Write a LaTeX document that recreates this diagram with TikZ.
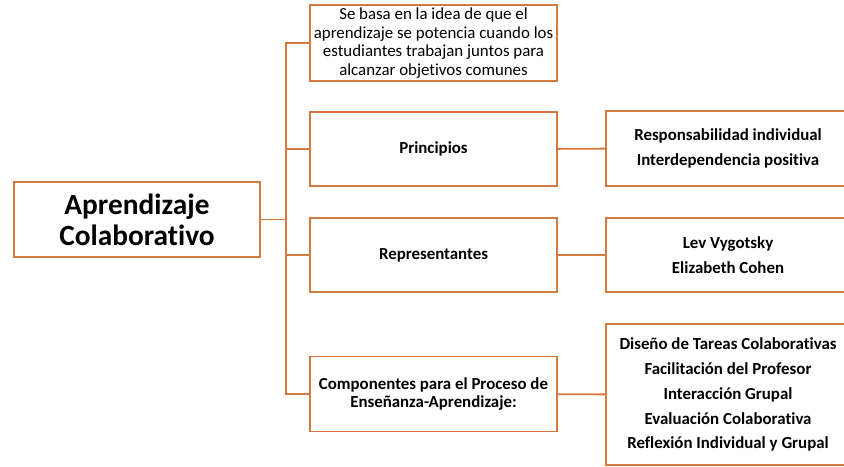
\documentclass[tikz,border=0pt]{standalone}
\usepackage{fontspec}
\setmainfont{Carlito}[Ligatures={NoCommon}]
\definecolor{naranja}{RGB}{214,121,62}
\begin{document}
\begin{tikzpicture}[x=0.02cm, y=-0.02cm,
        box/.style = {draw=naranja, line width=1.1pt, text=black, align=center, inner sep=0pt, minimum width=4.94cm, minimum height=1.48cm},
        lst/.style = {box, minimum width=4.88cm, font=\fontsize{9.6}{14.2}\selectfont\bfseries},
        lnk/.style = {naranja, line width=1.1pt}]
        \useasboundingbox (0,0) rectangle (844,466);
        \clip (0,0) rectangle (844,466);

        \node[box, minimum width=4.92cm, minimum height=1.5cm, font=\fontsize{16.7}{17.6}\selectfont\bfseries] (main) at (137,219.5) {Aprendizaje\\Colaborativo};

        \node[box, minimum height=1.52cm, font=\fontsize{9.6}{10.6}\selectfont] (idea) at (433.5,43) {Se basa en la idea de que el\\aprendizaje se potencia cuando los\\estudiantes trabajan juntos para\\alcanzar objetivos comunes};
        \node[box, font=\fontsize{9.6}{9.8}\selectfont\bfseries] (prin) at (433.5,149) {Principios};
        \node[box, font=\fontsize{9.6}{9.8}\selectfont\bfseries] (repr) at (433.5,255) {Representantes};
        \node[box, minimum height=1.5cm, font=\fontsize{9.6}{9.8}\selectfont\bfseries] (comp) at (433.5,394) {Componentes para el Proceso de\\Enseñanza-Aprendizaje:};

        \node[lst, minimum height=1.5cm] (prinR) at (728,148.5) {Responsabilidad individual\\Interdependencia positiva};
        \node[lst] (reprR) at (728,255) {Lev Vygotsky\\Elizabeth Cohen};
        \node[lst, minimum height=2.82cm] (compR) at (728,394.5) {Diseño de Tareas Colaborativas\\Facilitación del Profesor\\Interacción Grupal\\Evaluación Colaborativa\\Reflexión Individual y Grupal};

        \coordinate (j) at (286,219.5);

        \draw[lnk] (main) -- (j);
        \draw[lnk] (idea.west) -| (j);
        \draw[lnk] (comp.west) -| (j);
        \draw[lnk] (prin.west) -- (prin.west -| j);
        \draw[lnk] (repr.west) -- (repr.west -| j);

        \draw[lnk] (prin) -- (prinR);
        \draw[lnk] (repr) -- (reprR);
        \draw[lnk] (comp) -- (compR);

    \end{tikzpicture}
\end{document}
